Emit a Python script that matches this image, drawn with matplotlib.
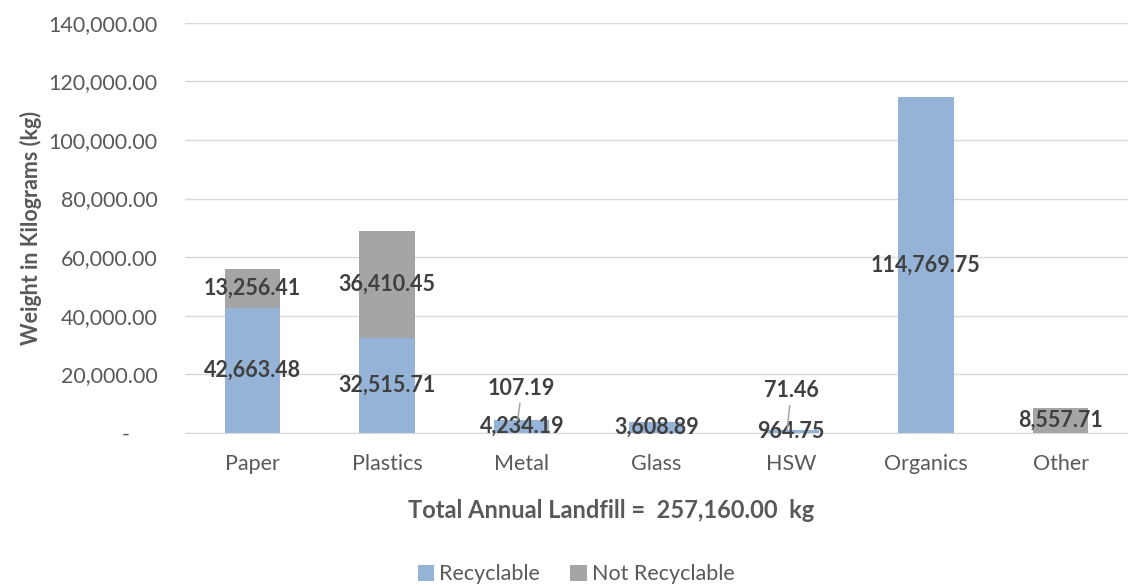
import matplotlib.pyplot as plt
import numpy as np
from matplotlib.ticker import FuncFormatter

categories = ["Paper", "Plastics", "Metal", "Glass", "HSW", "Organics", "Other"]
recyclable = [42663.48, 32515.71, 4234.19, 3608.89, 964.75, 114769.75, 0.0]
not_recyclable = [13256.41, 36410.45, 107.19, 0.0, 71.46, 0.0, 8557.71]
total_kg = 257160.00

BLUE = "#95B3D7"
GREY = "#A5A5A5"
TEXT = "#595959"
LABEL = "#404040"
FS = 15.5

plt.rcParams["font.family"] = ["Lato", "DejaVu Sans"]

fig = plt.figure(figsize=(11.28, 5.85), dpi=100)
ax = fig.add_axes([0.164, 0.26, 0.836, 0.701])

x = np.arange(len(categories))
width = 0.41
ax.bar(x, recyclable, width, color=BLUE, label="Recyclable", zorder=2)
ax.bar(x, not_recyclable, width, bottom=recyclable, color=GREY,
       label="Not Recyclable", zorder=2)

lab_kw = dict(ha="center", va="center", fontsize=FS, fontweight="bold",
              color=LABEL, zorder=4)

# small segments get their label lifted above the bar with a leader line
lift = {2: 10700, 4: 13300}

for i, (r, n) in enumerate(zip(recyclable, not_recyclable)):
    if r > 0:
        ax.text(x[i], r / 2, f"{r:,.2f}", **lab_kw)
    if n > 0:
        if i in lift:
            ax.annotate(f"{n:,.2f}", xy=(x[i] - 0.03, r + n), xytext=(x[i], r + n + lift[i]),
                        arrowprops=dict(arrowstyle="-", color="#A6A6A6", lw=1.1,
                                        shrinkA=1, shrinkB=0), **lab_kw)
        else:
            ax.text(x[i], r + n / 2, f"{n:,.2f}", **lab_kw)

ax.set_xlim(-0.5, len(categories) - 0.5)
ax.set_ylim(0, 140000)
ax.set_yticks(np.arange(0, 140001, 20000))
ax.yaxis.set_major_formatter(FuncFormatter(lambda v, p: f"{v:,.2f}" if v else "-     "))
ax.set_xticks(x)
ax.set_xticklabels(categories)
ax.tick_params(axis="both", length=0, labelsize=FS, colors=TEXT)
ax.tick_params(axis="x", pad=15)
ax.tick_params(axis="y", pad=19.5)

ax.grid(axis="y", color="#D9D9D9", lw=1, zorder=0)
for s in ["top", "right", "left"]:
    ax.spines[s].set_visible(False)
ax.spines["bottom"].set_color("#D9D9D9")

ax.set_ylabel("Weight in Kilograms (kg)", fontsize=FS, fontweight="bold", color=TEXT, labelpad=5)
fig.text(0.542, 0.128, f"Total Annual Landfill =  {total_kg:,.2f}  kg", fontsize=17,
         fontweight="bold", color=TEXT, ha="center", va="center")

ax.legend(loc="center", bbox_to_anchor=(0.415, -0.345), ncol=2, frameon=False,
          fontsize=FS, handlelength=0.75, handleheight=0.75, handletextpad=0.25,
          columnspacing=1.4, labelcolor=TEXT)

fig.savefig("out.png", dpi=100)
